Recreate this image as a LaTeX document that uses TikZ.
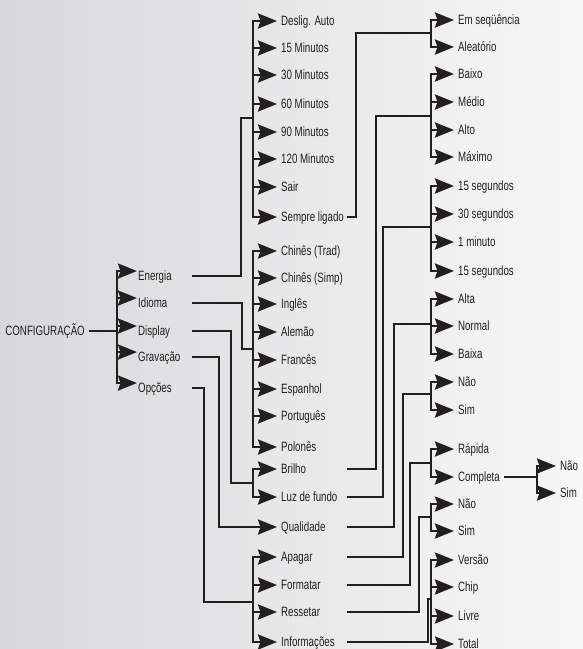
\documentclass[tikz,border=0pt]{standalone}
\usepackage{fontspec}
\setmainfont{Liberation Sans}[FakeStretch=0.72]
\usepackage{tikz}
\usepackage{xcolor}
\definecolor{ink}     {RGB}{35,31,32}
\definecolor{bgleft}  {RGB}{215,216,218}
\definecolor{bgright} {RGB}{247,247,247}
\usetikzlibrary{arrows.meta}
\tikzset{ % Setup for the menu tree
line/.style={draw=ink, line width=2.6pt},
arr/.style={line, -{Stealth[length=19pt,width=15pt,inset=2.5pt]}},
bracket/.style={line, line cap=rect},
item/.style={anchor=west, inner xsep=4pt, inner ysep=0pt, text height=9.5pt, text depth=0pt, text=ink, font=\fontsize{13.5}{15}\selectfont},
}

\begin{document}
\begin{tikzpicture}[x=1pt, y=-1pt]
    \useasboundingbox (0,0) rectangle (583,649);
    \shade[left color=bgleft, right color=bgright] (0,0) rectangle (583,649);

    \coordinate (b0) at (117,0);
    \coordinate (b1) at (253,0);
    \coordinate (b2) at (431,0);
    \coordinate (b3) at (537,0);
    \coordinate (o1) at (192,0);
    \coordinate (o2) at (347,0);

    % first level
    \node [item, anchor=east] (conf) at (89,331) {CONFIGURAÇÃO};
    \foreach \n/\y/\t in {energia/276/Energia, idioma/303/Idioma, display/331/Display, gravacao/357/Gravação, opcoes/388/Opções}
        \node [item, inner xsep=1pt] (\n) at (137,\y) {\t};

    % second level
    \foreach \n/\y/\t in {desl/21/Deslig. Auto, min15/48/15 Minutos, min30/75/30 Minutos, min60/104/60 Minutos,
                          min90/132/90 Minutos, min120/159/120 Minutos, sair/187/Sair, sempre/217/Sempre ligado,
                          trad/251/Chinês (Trad), simp/278/Chinês (Simp), ingles/304/Inglês, alemao/332/Alemão,
                          frances/360/Francês, espanhol/389/Espanhol, portugues/416/Português, polones/447/Polonês,
                          brilho/469/Brilho, luz/497/Luz de fundo, qualidade/527/Qualidade,
                          apagar/557/Apagar, formatar/585/Formatar, ressetar/612/Ressetar, info/642/Informações}
        \node [item] (\n) at (277,\y) {\t};

    % third level
    \foreach \n/\y/\t in {seq/20/Em seqüência, aleat/47/Aleatório,
                          baixo/74/Baixo, medio/102/Médio, alto/130/Alto, maximo/157/Máximo,
                          sega/186/15 segundos, segb/214/30 segundos, minu/242/1 minuto, segc/271/15 segundos,
                          alta/299/Alta, normal/326/Normal, baixa/354/Baixa,
                          naoa/382/Não, sima/410/Sim, rapida/449/Rápida, completa/477/Completa,
                          naob/504/Não, simb/531/Sim,
                          versao/560/Versão, chip/587/Chip, livre/616/Livre, total/644/Total}
        \node [item] (\n) at (454,\y) {\t};

    % fourth level
    \node [item] (naoc) at (556,466) {Não};
    \node [item] (simc) at (556,493) {Sim};

    % brackets and arrows
    \draw [line] (conf.east) -- (conf.east -| b0);
    \draw [bracket] (energia.north west -| b0) -- (opcoes.north west -| b0);
    \foreach \n in {energia, idioma, display, gravacao, opcoes}
        \draw [arr] (\n.north west -| b0) -- (\n.north west);

    \foreach \a/\b in {desl/sempre, trad/polones, brilho/luz, apagar/info}
        \draw [bracket] (\a.west -| b1) -- (\b.west -| b1);
    \foreach \a/\b in {seq/aleat, baixo/maximo, sega/segc, alta/baixa, naoa/sima, rapida/completa, naob/simb, versao/total}
        \draw [bracket] (\a.west -| b2) -- (\b.west -| b2);
    \draw [bracket] (naoc.west -| b3) -- (simc.west -| b3);

    \foreach \n in {desl, min15, min30, min60, min90, min120, sair, sempre, trad, simp, ingles, alemao,
                    frances, espanhol, portugues, polones, brilho, luz, apagar, formatar, ressetar, info}
        \draw [arr] (\n.west -| b1) -- (\n.west);
    \foreach \n in {seq, aleat, baixo, medio, alto, maximo, sega, segb, minu, segc, alta, normal, baixa,
                    naoa, sima, rapida, completa, naob, simb, versao, chip, livre, total}
        \draw [arr] (\n.west -| b2) -- (\n.west);
    \foreach \n in {naoc, simc}
        \draw [arr] (\n.west -| b3) -- (\n.west);

    % connectors
    \coordinate (jen) at (241,118);
    \coordinate (jid) at (242,349);
    \coordinate (jdi) at (231,483);
    \coordinate (jgr) at (219,0);
    \coordinate (jop) at (204,602);
    \foreach \s/\j in {energia/jen, idioma/jid, display/jdi, opcoes/jop}
        \draw [line] (\s.east -| o1) -| (\j) -- (\j -| b1);
    \draw [arr] (gravacao.east -| o1) -| (qualidade.west -| jgr) -- (qualidade.west);

    \coordinate (jse) at (356,33);
    \coordinate (jbr) at (376,116);
    \coordinate (jlu) at (383,227);
    \coordinate (jqu) at (394,324);
    \coordinate (jap) at (403,394);
    \coordinate (jfo) at (410,463);
    \coordinate (jre) at (419,517);
    \coordinate (jin) at (428,599);
    \foreach \s/\j in {sempre/jse, brilho/jbr, luz/jlu, qualidade/jqu, apagar/jap, formatar/jfo, ressetar/jre, info/jin}
        \draw [line] (\s.east -| o2) -| (\j) -- (\j -| b2);

    \draw [line] (completa.east) -- (completa.east -| b3);
\end{tikzpicture}
\end{document}
